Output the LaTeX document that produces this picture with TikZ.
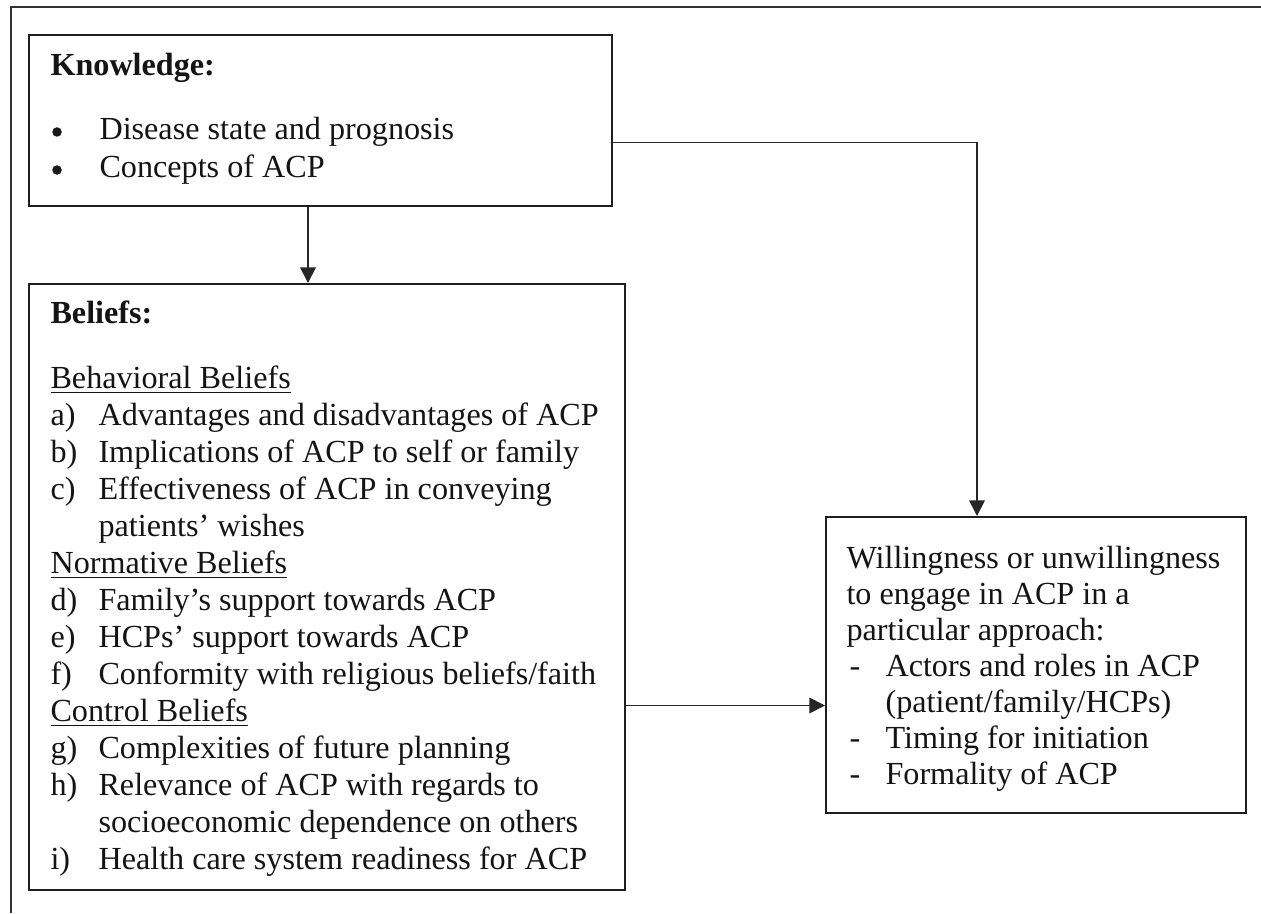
\documentclass[tikz,border=0pt]{standalone}
\usepackage{fontspec}
\setmainfont{Liberation Serif}
\usetikzlibrary{arrows.meta}
\def\pxu{0.3731pt}
\begin{document}
\begin{tikzpicture}[x=0.3731pt,y=-0.3731pt,
  box/.style={draw=black!88, line width=0.7pt, inner sep=0pt, anchor=north west},
  txt/.style={anchor=base west, inner sep=0pt, font=\fontsize{12}{13.5}\selectfont, text=black!92},
  dot/.style={circle, fill=black!90, inner sep=0pt, minimum size={9.5*\pxu}},
  conn/.style={draw=black!85, line width=0.65pt},
  arr/.style={conn, -{Triangle[length=5.8pt,width=5.8pt]}}]
\useasboundingbox (0,0) rectangle (1261,913);
\draw[line width=0.8pt, black!80] (11,913) -- (11,7) -- (1261,7);

% boxes
\node[box, minimum width={583*\pxu}, minimum height={171*\pxu}] (K) at (28,34) {};
\node[box, minimum width={596*\pxu}, minimum height={606*\pxu}] (B) at (28,283) {};
\node[box, minimum width={420*\pxu}, minimum height={296*\pxu}] (R) at (825,516) {};

% connectors
\coordinate (kx) at (308,0);
\coordinate (ky) at (0,142.5);
\coordinate (cx) at (977,0);
\coordinate (by) at (0,705.5);
\draw[arr] (K.south -| kx) -- (B.north -| kx);
\draw[arr] (K.east |- ky) -- (ky -| cx) -- (R.north -| cx);
\draw[arr] (B.east |- by) -- (R.west |- by);

% knowledge text
\node[txt] (kh) at (50,76) {\bfseries Knowledge:};
\node[dot] (kb1) at (57,132) {};
\node[txt] (k1) at (99,140) {Disease state and prognosis};
\node[dot] (kb2) at (57,170) {};
\node[txt] (k2) at (99,178) {Concepts of ACP};

% beliefs text
\node[txt] (bh) at (50,323) {\bfseries Beliefs:};
\node[txt] (h1) at (50,388) {\underline{Behavioral Beliefs}};
\node[txt] (la) at (50,425) {a)};
\node[txt] (ta) at (98,425) {Advantages and disadvantages of ACP};
\node[txt] (lb) at (50,462) {b)};
\node[txt] (tb) at (98,462) {Implications of ACP to self or family};
\node[txt] (lc) at (50,499) {c)};
\node[txt] (tc) at (98,499) {Effectiveness of ACP in conveying};
\node[txt] (tc2) at (98,536) {patients' wishes};
\node[txt] (h2) at (50,573) {\underline{Normative Beliefs}};
\node[txt] (ld) at (50,610) {d)};
\node[txt] (td) at (98,610) {Family's support towards ACP};
\node[txt] (le) at (50,647) {e)};
\node[txt] (te) at (98,647) {HCPs' support towards ACP};
\node[txt] (lf) at (50,684) {f)};
\node[txt] (tf) at (98,684) {Conformity with religious beliefs/faith};
\node[txt] (h3) at (50,721) {\underline{Control Beliefs}};
\node[txt] (lg) at (50,758) {g)};
\node[txt] (tg) at (98,758) {Complexities of future planning};
\node[txt] (lh) at (50,795) {h)};
\node[txt] (th) at (98,795) {Relevance of ACP with regards to};
\node[txt] (th2) at (98,832) {socioeconomic dependence on others};
\node[txt] (li) at (50,869) {i)};
\node[txt] (ti) at (98,869) {Health care system readiness for ACP};

% right box text
\node[txt] (r1) at (846,568) {Willingness or unwillingness};
\node[txt] (r2) at (846,604) {to engage in ACP in a};
\node[txt] (r3) at (846,640) {particular approach:};
\node[txt] (rd1) at (849,676) {-};
\node[txt] (r4) at (885,676) {Actors and roles in ACP};
\node[txt] (r5) at (885,712) {(patient/family/HCPs)};
\node[txt] (rd2) at (849,748) {-};
\node[txt] (r6) at (885,748) {Timing for initiation};
\node[txt] (rd3) at (849,784) {-};
\node[txt] (r7) at (885,784) {Formality of ACP};
\end{tikzpicture}
\end{document}
